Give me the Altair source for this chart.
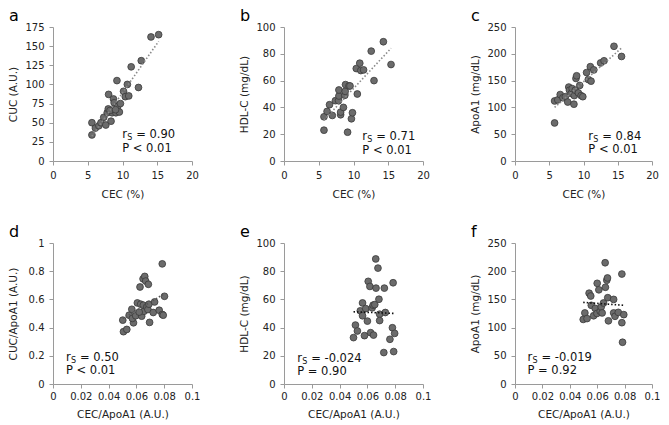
import altair as alt
import pandas as pd

# ---- Panel a: CEC (%) vs CUC (A.U.)
a_x = [5.6, 5.6, 6.1, 6.6, 6.9, 7.3, 7.6, 7.8, 7.95, 8.0, 8.35, 8.5, 8.7, 8.8, 8.9, 9.05,
       9.2, 9.3, 9.55, 9.7, 10.15, 10.4, 10.7, 10.9, 11.25, 12.3, 12.7, 14.1, 15.2, 8.2, 9.0]
a_y = [34, 50, 43, 46, 50, 57, 47, 63, 68, 87, 52, 63, 81, 76, 69, 63,
       105, 71, 64, 75, 91, 84, 100, 85, 123, 96, 131, 162, 165, 66, 67]

# ---- Panel b: CEC (%) vs HDL-C (mg/dL)
b_x = [5.75, 5.75, 6.2, 6.55, 6.95, 7.4, 7.85, 7.9, 7.9, 8.15, 8.15, 8.55, 8.75, 8.8, 8.85,
       9.15, 9.35, 9.5, 9.7, 9.85, 10.4, 10.55, 10.9, 11.05, 11.45, 12.55, 12.95, 14.3, 15.4]
b_y = [23, 33, 37, 42, 34, 45, 45, 48.5, 53, 34.5, 36.5, 40, 49, 52, 57,
       21.5, 56, 56, 31.5, 36, 69, 50, 73, 67.5, 68, 82, 60, 89, 72]

# ---- Panel c: CEC (%) vs ApoA1 (mg/dL)
c_x = [5.78, 5.78, 6.25, 6.6, 7.0, 7.35, 7.7, 7.85, 7.95, 8.2, 8.35, 8.6, 8.65, 8.8, 8.9,
       9.0, 9.25, 9.45, 9.65, 9.9, 10.45, 10.7, 11.0, 11.1, 11.5, 12.5, 13.0, 14.45, 15.55]
c_y = [71, 112, 114, 124, 118, 120, 110, 138, 132, 126, 135, 106, 122, 132, 154,
       159, 127, 141, 122, 120, 165, 152, 176, 149, 170, 183, 187, 214, 195]

# ---- Panel d: CEC/ApoA1 vs CUC/ApoA1
d_x = [0.0507, 0.0531, 0.0502, 0.0548, 0.0567, 0.0579, 0.0571, 0.0595, 0.0607, 0.0626,
       0.0631, 0.0638, 0.0648, 0.0660, 0.0667, 0.0655, 0.0650, 0.0674, 0.0683, 0.0686,
       0.0690, 0.0695, 0.0721, 0.0731, 0.0764, 0.0786, 0.0793, 0.0786, 0.0802, 0.0620]
d_y = [0.371, 0.387, 0.453, 0.488, 0.530, 0.434, 0.465, 0.484, 0.575, 0.688,
       0.566, 0.481, 0.746, 0.763, 0.730, 0.516, 0.559, 0.547, 0.528, 0.707,
       0.566, 0.437, 0.507, 0.582, 0.523, 0.493, 0.488, 0.852, 0.622, 0.510]

# ---- Panel e: CEC/ApoA1 vs HDL-C
e_x = [0.0500, 0.0514, 0.0528, 0.0549, 0.0565, 0.0565, 0.0579, 0.0588, 0.0600, 0.0606,
       0.0618, 0.0623, 0.0634, 0.0641, 0.0644, 0.0653, 0.0660, 0.0662, 0.0676, 0.0683,
       0.0688, 0.0688, 0.0718, 0.0722, 0.0729, 0.0762, 0.0780, 0.0785, 0.0789, 0.0796]
e_y = [32.9, 41.8, 37.6, 51.9, 57.5, 48.4, 34.3, 53.5, 44.6, 72.8,
       69.2, 36.4, 54.0, 55.9, 34.7, 56.3, 88.7, 68.0, 82.2, 60.1,
       49.5, 45.0, 22.3, 68.0, 50.7, 31.7, 39.9, 71.8, 23.0, 35.9]

# ---- Panel f: CEC/ApoA1 vs ApoA1
f_x = [0.0498, 0.0510, 0.0526, 0.0541, 0.0553, 0.0557, 0.0574, 0.0586, 0.0598, 0.0600,
       0.0612, 0.0622, 0.0629, 0.0636, 0.0646, 0.0658, 0.0660, 0.0670, 0.0675, 0.0677,
       0.0682, 0.0720, 0.0720, 0.0730, 0.0754, 0.0780, 0.0780, 0.0794, 0.0785]
f_y = [114.5, 126, 116, 161, 156, 139.5, 121, 134, 125, 178.5,
       167, 129, 136.6, 126, 143.6, 215, 171.5, 184, 188, 153,
       112, 150, 126, 120, 127, 108.7, 195, 123, 74]

# ---- annotations
letters = ["a", "b", "c", "d", "e", "f"]
r_values = ["0.90", "0.71", "0.84", "0.50", "-0.024", "-0.019"]
p_texts = ["P < 0.01", "P < 0.01", "P < 0.01", "P < 0.01", "P = 0.90", "P = 0.92"]
ann_x = [9.96, 11.27, 10.7, 0.0093, 0.0095, 0.0091]
ann_y1 = [33.5, 17.6, 44, 0.183, 17.4, 46.9]
ann_y2 = [15.4, 7.4, 20.8, 0.089, 8.7, 23.8]

x_titles = ["CEC (%)"] * 3 + ["CEC/ApoA1 (A.U.)"] * 3
y_titles = ["CUC (A.U.)", "HDL-C (mg/dL)", "ApoA1 (mg/dL)",
            "CUC/ApoA1 (A.U.)", "HDL-C (mg/dL)", "ApoA1 (mg/dL)"]
x_ticks_top = [0, 5, 10, 15, 20]
x_ticks_bot = [0, 0.02, 0.04, 0.06, 0.08, 0.1]
y_ticks = [
    [0, 25, 50, 75, 100, 125, 150, 175],
    [0, 20, 40, 60, 80, 100],
    [0, 50, 100, 150, 200, 250],
    [0, 0.2, 0.4, 0.6, 0.8, 1],
    [0, 20, 40, 60, 80, 100],
    [0, 50, 100, 150, 200, 250],
]
line_colors = ["#8a8a8a", "#8a8a8a", "#8a8a8a", "#555555", "#111111", "#111111"]

FONT = "DejaVu Sans"
widths = [139, 139, 137]
heights = [134, 141]


def panel(i, xs, ys):
    row = i // 3
    xvals = x_ticks_top if row == 0 else x_ticks_bot
    yvals = y_ticks[i]
    df = pd.DataFrame({"x": xs, "y": ys})
    xenc = alt.X("x:Q",
                 scale=alt.Scale(domain=[xvals[0], xvals[-1]], nice=False),
                 axis=alt.Axis(values=xvals, tickCount=len(xvals) + 2,
                               labelExpr="'' + datum.value",
                               title=x_titles[i],
                               labelFlush=False, labelOverlap=False,
                               labelPadding=5 if row == 0 else 3,
                               titlePadding=9 if row == 0 else 8))
    yenc = alt.Y("y:Q",
                 scale=alt.Scale(domain=[yvals[0], yvals[-1]], nice=False),
                 axis=alt.Axis(values=yvals, tickCount=len(yvals) + 2,
                               labelExpr="'' + datum.value",
                               title=y_titles[i],
                               labelFlush=False, labelOverlap=False,
                               labelPadding=5, titlePadding=5,
                               minExtent=30, maxExtent=30))
    base = alt.Chart(df)
    pts = base.mark_circle(size=46, color="#6b6b6b", stroke="#3a3a3a",
                           strokeWidth=0.8, opacity=1)
    reg = base.transform_regression("x", "y").mark_line(
        color=line_colors[i], strokeDash=[1.5, 2], strokeWidth=1.6
    )
    a1 = pd.DataFrame({"x": [ann_x[i]], "y": [ann_y1[i]]})
    a2 = pd.DataFrame({"x": [ann_x[i]], "y": [ann_y2[i]]})
    tstyle = dict(align="left", baseline="middle", font=FONT, color="#111111")
    t_r = alt.Chart(a1).mark_text(text="r", fontSize=11.5, **tstyle)
    t_s = alt.Chart(a1).mark_text(text="S", fontSize=8, dx=5, dy=3, **tstyle)
    t_v = alt.Chart(a1).mark_text(text="= " + r_values[i], fontSize=11.5, dx=14, **tstyle)
    t_p = alt.Chart(a2).mark_text(text=p_texts[i], fontSize=11.5, **tstyle)
    return alt.layer(pts, reg, t_r, t_s, t_v, t_p).encode(
        x=xenc, y=yenc
    ).properties(
        width=widths[i % 3], height=heights[row],
        title=alt.TitleParams(text=letters[i], anchor="start", frame="group",
                              fontSize=16, fontWeight="normal", font=FONT,
                              color="#000000", dx=-44, dy=15, offset=0,
                              baseline="alphabetic"),
    )


series = [(a_x, a_y), (b_x, b_y), (c_x, c_y), (d_x, d_y), (e_x, e_y), (f_x, f_y)]
panels = [panel(i, sx, sy) for i, (sx, sy) in enumerate(series)]

chart = alt.concat(*panels, columns=3, spacing={"row": 82, "column": 92},
                   bounds="flush", align="each").properties(
    padding={"left": 0, "top": 0, "right": 0, "bottom": 0}
).configure_view(stroke=None).configure_axis(
    grid=False, domainColor="#9a9a9a", tickColor="#9a9a9a", tickSize=4,
    labelColor="#222222", titleColor="#222222", labelFont=FONT, titleFont=FONT,
    labelFontSize=10, titleFontSize=10.5, titleFontWeight="normal"
)

chart.save("out.html", embed_options={"renderer": "svg", "actions": False})
